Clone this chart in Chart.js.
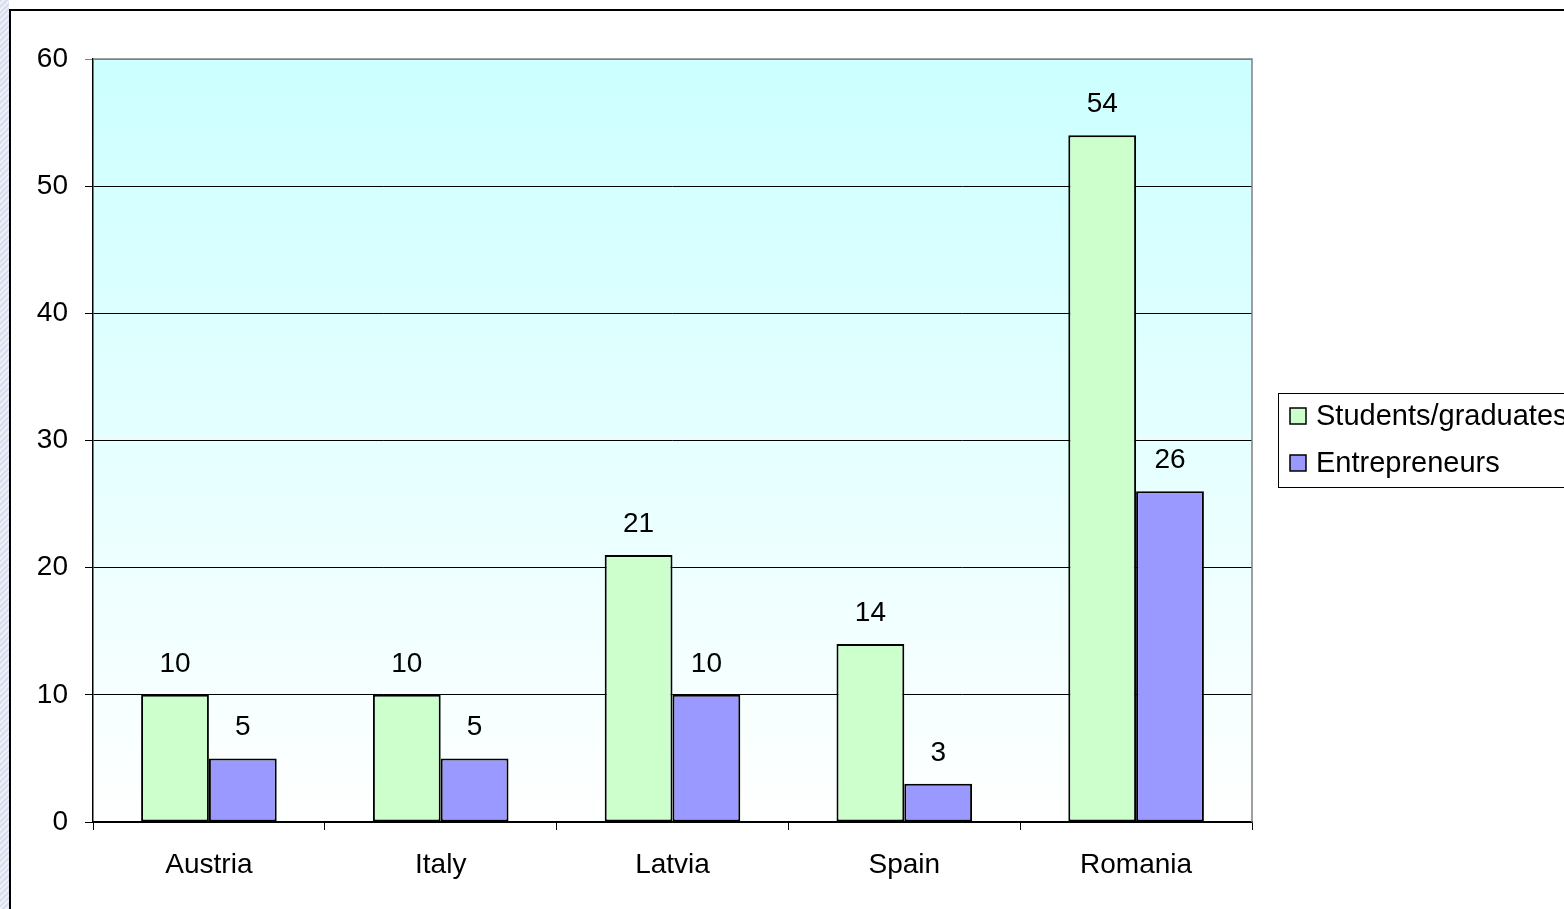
<!DOCTYPE html>
<html>
<head>
<meta charset="utf-8">
<script src="https://cdn.jsdelivr.net/npm/chart.js@4/dist/chart.umd.min.js"></script>
<style>
  html, body { margin: 0; padding: 0; background: #ffffff; overflow: hidden; }
  #wrap { position: relative; width: 1564px; height: 909px; }
  #strip { position: absolute; left: 0; top: 0; width: 9px; height: 909px;
    background: repeating-linear-gradient(135deg, #d9ddf0 0px, #d9ddf0 2px, #eef0f8 2px, #eef0f8 4px); }
  canvas { position: absolute; left: 0; top: 0; }
</style>
</head>
<body>
<div id="wrap">
  <div id="strip"></div>
  <canvas id="c" width="1564" height="909"></canvas>
</div>
<script>
const categories = ["Austria", "Italy", "Latvia", "Spain", "Romania"];
const studentsGraduates = [10, 10, 21, 14, 54];
const entrepreneurs = [5, 5, 10, 3, 26];
const seriesNames = ["Students/graduates", "Entrepreneurs"];
const yTicks = [0, 10, 20, 30, 40, 50, 60];

const FONT = "'Liberation Sans', Arial, sans-serif";
const FS = 28;

const bgPlugin = {
  id: 'bg',
  beforeDraw(chart) {
    const { ctx, chartArea: a } = chart;
    ctx.save();
    const g = ctx.createLinearGradient(0, a.top, 0, a.bottom);
    g.addColorStop(0, '#ccffff');
    g.addColorStop(1, '#ffffff');
    ctx.fillStyle = g;
    ctx.fillRect(a.left, a.top, a.right - a.left, a.bottom - a.top);
    ctx.restore();
  },
  beforeDatasetsDraw(chart) {
    const { ctx, chartArea: a } = chart;
    ctx.save();
    ctx.strokeStyle = '#808080';
    ctx.lineWidth = 1.5;
    ctx.beginPath();
    ctx.moveTo(a.left, a.top);
    ctx.lineTo(a.right, a.top);
    ctx.lineTo(a.right, a.bottom);
    ctx.stroke();
    ctx.restore();
  },
  afterDatasetsDraw(chart) {
    const { ctx } = chart;
    ctx.save();
    ctx.font = FS + 'px ' + FONT;
    ctx.fillStyle = '#000';
    ctx.textAlign = 'center';
    ctx.textBaseline = 'alphabetic';
    chart.data.datasets.forEach((ds, i) => {
      const meta = chart.getDatasetMeta(i);
      meta.data.forEach((el, j) => {
        ctx.fillText(String(ds.data[j]), el.x, el.y - 23);
      });
    });
    ctx.restore();
  },
  afterDraw(chart) {
    const { ctx } = chart;
    ctx.save();
    // legend
    ctx.fillStyle = '#fff';
    ctx.fillRect(1278, 393, 400, 94);
    ctx.strokeStyle = '#000';
    ctx.lineWidth = 1;
    ctx.strokeRect(1278.5, 393.5, 400, 94);
    ctx.font = '29px ' + FONT;
    ctx.textAlign = 'left';
    ctx.textBaseline = 'middle';
    const rows = [416, 463];
    chart.data.datasets.forEach((ds, i) => {
      const y = rows[i];
      ctx.fillStyle = ds.backgroundColor;
      ctx.fillRect(1290, y - 8, 16, 16);
      ctx.lineWidth = 1.5;
      ctx.strokeStyle = '#000';
      ctx.strokeRect(1290, y - 8, 16, 16);
      ctx.fillStyle = '#000';
      ctx.fillText(ds.label, 1316, y + 1);
    });
    // outer frame
    ctx.strokeStyle = '#000';
    ctx.lineWidth = 2;
    ctx.beginPath();
    ctx.moveTo(10, 909);
    ctx.lineTo(10, 10);
    ctx.lineTo(1564, 10);
    ctx.stroke();
    ctx.restore();
  }
};

new Chart(document.getElementById('c'), {
  type: 'bar',
  data: {
    labels: categories,
    datasets: [
      { label: seriesNames[0], data: studentsGraduates, backgroundColor: '#ccffcc', borderColor: '#000', borderWidth: 2, borderSkipped: false },
      { label: seriesNames[1], data: entrepreneurs, backgroundColor: '#9999ff', borderColor: '#000', borderWidth: 2, borderSkipped: false }
    ]
  },
  options: {
    responsive: false,
    animation: false,
    devicePixelRatio: 1,
    categoryPercentage: 0.585,
    barPercentage: 1.0,
    layout: { padding: { left: 0, top: 59, right: 312, bottom: 0 } },
    plugins: { legend: { display: false }, tooltip: { enabled: false } },
    scales: {
      x: {
        grid: { offset: true, drawOnChartArea: false, color: '#000', tickLength: 8, lineWidth: 1 },
        border: { color: '#000', width: 1.5 },
        ticks: { color: '#000', font: { family: FONT, size: FS }, padding: 18, maxRotation: 0 },
        afterFit(s) { s.height = 87; }
      },
      y: {
        min: 0, max: 60,
        afterBuildTicks(s) { s.ticks = yTicks.map(v => ({ value: v })); },
        grid: { color: (c) => (c.tick && c.tick.value === 60) ? '#808080' : '#000', lineWidth: 1, tickLength: 8 },
        border: { color: '#000', width: 1.5 },
        ticks: { color: '#000', font: { family: FONT, size: FS }, padding: 17 },
        afterFit(s) { s.width = 93; }
      }
    }
  },
  plugins: [bgPlugin]
});
</script>
</body>
</html>
